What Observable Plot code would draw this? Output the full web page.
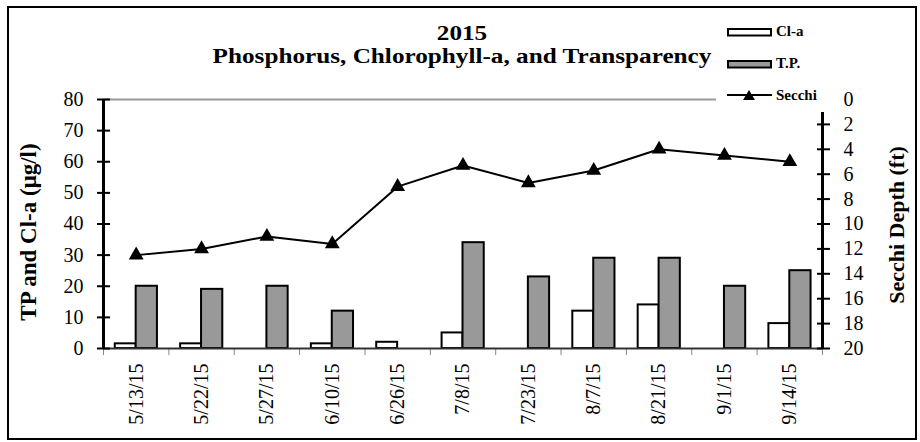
<!DOCTYPE html>
<html><head><meta charset="utf-8">
<script src="https://cdn.jsdelivr.net/npm/d3@7"></script>
<script src="https://cdn.jsdelivr.net/npm/@observablehq/plot@0.6"></script>
<style>
body{margin:0;background:#fff;}
#wrap{position:relative;width:920px;height:442px;font-family:"Liberation Serif","DejaVu Serif",serif;overflow:hidden;}
#wrap svg{position:absolute;left:0;top:0;}
#border{position:absolute;left:7px;top:6px;width:906px;height:430px;border:2px solid #000;pointer-events:none;}
.title{position:absolute;left:462px;white-space:nowrap;font-weight:bold;font-size:20px;transform:translateX(-50%) scaleX(1.26);line-height:1;}
#legend{position:absolute;left:716px;top:16px;width:118px;height:96px;background:#fff;}
</style></head><body><div id="wrap"></div>
<script>
const dates = ["5/13/15","5/22/15","5/27/15","6/10/15","6/26/15","7/8/15","7/23/15","8/7/15","8/21/15","9/1/15","9/14/15"];
const clA = [1.5, 1.5, 0, 1.5, 2, 5, 0, 12, 14, 0, 8];
const tp = [20, 19, 20, 12, 0, 34, 23, 29, 29, 20, 25];
const secchi = [12.5, 12, 11, 11.6, 7, 5.3, 6.7, 5.7, 4, 4.5, 5];
const leftTicks = [0, 10, 20, 30, 40, 50, 60, 70, 80];
const rightTicks = [0, 2, 4, 6, 8, 10, 12, 14, 16, 18, 20];
const titleLines = ["2015", "Phosphorus, Chlorophyll-a, and Transparency"];
const leftTitle = "TP and Cl-a (μg/l)";
const rightTitle = "Secchi Depth (ft)";
const legendLabels = ["Cl-a", "T.P.", "Secchi"];

// secchi depth (0..20 ft, downward) mapped onto the left 0..80 scale
const depthToY = d => 80 - 4 * d;
const yToDepth = v => (80 - v) / 4;

const rows = dates.map((date, i) => ({i, date, cla: clA[i], tp: tp[i], secchi: secchi[i]}));

const chart = Plot.plot({
  width: 920, height: 442,
  marginLeft: 103, marginRight: 98, marginTop: 99, marginBottom: 94,
  x: {domain: [0, 11]},
  y: {domain: [0, 80]},
  style: {fontFamily: "'Liberation Serif','DejaVu Serif',serif", fontSize: "20px", color: "#000", background: "transparent", overflow: "visible"},
  marks: [
    Plot.ruleY([80], {stroke: "#999", strokeWidth: 2}),
    Plot.rectY(rows.filter(r => r.cla > 0), {x1: r => r.i + 0.18, x2: r => r.i + 0.5, y: "cla", fill: "#fff", stroke: "#000", strokeWidth: 2}),
    Plot.rectY(rows.filter(r => r.tp > 0), {x1: r => r.i + 0.5, x2: r => r.i + 0.825, y: "tp", fill: "#999", stroke: "#000", strokeWidth: 2}),
    Plot.axisX({ticks: d3.range(12), tickSize: 7, tickFormat: () => "", stroke: "#888", strokeWidth: 1, label: null}),
    Plot.ruleY([0], {stroke: "#333", strokeWidth: 2}),
    Plot.axisX({ticks: d3.range(11).map(i => i + 0.5), tickFormat: v => dates[Math.floor(v)], tickSize: 0, tickRotate: -90, tickPadding: 15, fontSize: 20, label: null}),
    Plot.ruleX([0], {stroke: "#000", strokeWidth: 3}),
    Plot.ruleX([11], {stroke: "#000", strokeWidth: 3}),
    Plot.axisY({anchor: "left", ticks: leftTicks, tickSize: 13, dx: 7, tickPadding: 14, strokeWidth: 2, fontSize: 20, label: null}),
    Plot.axisY({anchor: "right", ticks: rightTicks.map(depthToY), tickFormat: v => String(yToDepth(v)), tickSize: 13, dx: -6, tickPadding: 14, strokeWidth: 2, fontSize: 20, label: null}),
    Plot.text([leftTitle], {frameAnchor: "left", textAnchor: "middle", dx: -75, dy: 8, rotate: -90, fontWeight: "bold", fontSize: 23}),
    Plot.text([rightTitle], {frameAnchor: "right", textAnchor: "middle", dx: 74, dy: 1, rotate: -90, fontWeight: "bold", fontSize: 22}),
    Plot.line(rows, {x: r => r.i + 0.5, y: r => depthToY(r.secchi), stroke: "#000", strokeWidth: 2}),
    Plot.dot(rows, {x: r => r.i + 0.5, y: r => depthToY(r.secchi), symbol: "triangle", fill: "#000", r: 5.5})
  ]
});

const wrap = document.getElementById("wrap");
wrap.appendChild(chart);

titleLines.forEach((t, k) => {
  const d = document.createElement("div");
  d.className = "title";
  d.style.top = (k === 0 ? 23 : 46) + "px";
  d.textContent = t;
  wrap.appendChild(d);
});

const legend = document.createElement("div");
legend.id = "legend";
legend.innerHTML = `<svg width="118" height="96" style="position:absolute;left:0;top:0;overflow:visible" font-family="'Liberation Serif','DejaVu Serif',serif" font-weight="bold" font-size="15">
  <rect x="12" y="13" width="43" height="6.5" fill="#fff" stroke="#000" stroke-width="2"/>
  <text x="60" y="20">${legendLabels[0]}</text>
  <rect x="12" y="45" width="43" height="6.5" fill="#999" stroke="#000" stroke-width="2"/>
  <text x="60" y="52">${legendLabels[1]}</text>
  <line x1="11" x2="56" y1="79" y2="79" stroke="#000" stroke-width="2"/>
  <path d="M33,74 L39,84 L27,84 Z" fill="#000"/>
  <text x="60" y="84">${legendLabels[2]}</text>
</svg>`;
wrap.appendChild(legend);

const border = document.createElement("div");
border.id = "border";
wrap.appendChild(border);
</script>
</body></html>
